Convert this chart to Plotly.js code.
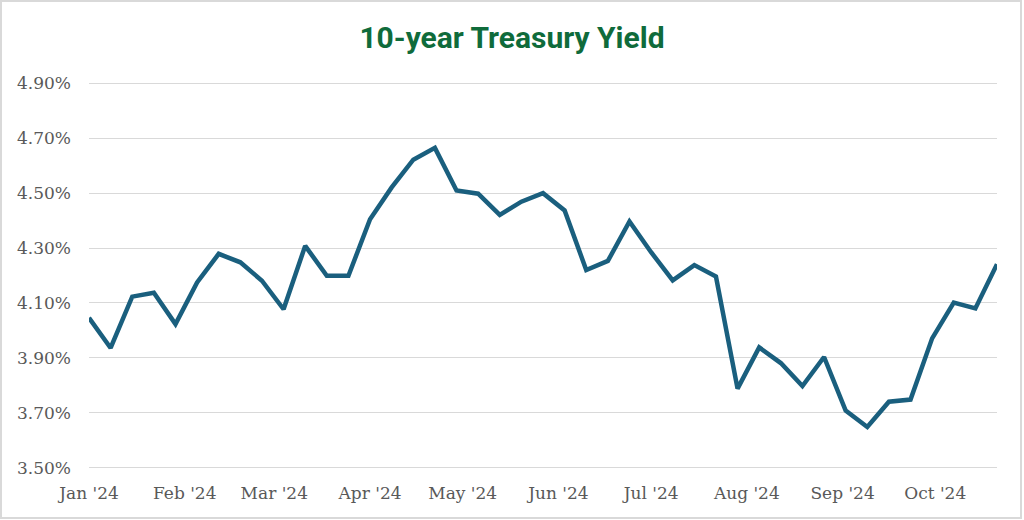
<!DOCTYPE html>
<html>
<head>
<meta charset="utf-8">
<script src="https://cdn.plot.ly/plotly-3.0.1.min.js"></script>
<style>
  html, body { margin: 0; padding: 0; background: #ffffff; }
  #chart { position: absolute; left: 0; top: 0; width: 1024px; height: 520px; }
  #frame { position: absolute; left: 0; top: 0; width: 1022px; height: 519px; box-sizing: border-box; border: 2px solid #d9d9d9; pointer-events: none; }
</style>
</head>
<body>
<div id="chart"></div>
<div id="frame"></div>
<script>
const weeks = [
  "2024-01-01","2024-01-08","2024-01-15","2024-01-22","2024-01-29",
  "2024-02-05","2024-02-12","2024-02-19","2024-02-26",
  "2024-03-04","2024-03-11","2024-03-18","2024-03-25",
  "2024-04-01","2024-04-08","2024-04-15","2024-04-22","2024-04-29",
  "2024-05-06","2024-05-13","2024-05-20","2024-05-27",
  "2024-06-03","2024-06-10","2024-06-17","2024-06-24",
  "2024-07-01","2024-07-08","2024-07-15","2024-07-22","2024-07-29",
  "2024-08-05","2024-08-12","2024-08-19","2024-08-26",
  "2024-09-02","2024-09-09","2024-09-16","2024-09-23","2024-09-30",
  "2024-10-07","2024-10-14","2024-10-21"
];
const yield10y = [
  4.046, 3.936, 4.123, 4.137, 4.023,
  4.175, 4.279, 4.248, 4.181,
  4.077, 4.308, 4.199, 4.199,
  4.405, 4.521, 4.622, 4.665, 4.510,
  4.498, 4.421, 4.469, 4.500,
  4.437, 4.220, 4.253, 4.397,
  4.285, 4.182, 4.238, 4.196, 3.788,
  3.938, 3.881, 3.797, 3.903,
  3.708, 3.648, 3.740, 3.748, 3.971,
  4.101, 4.080, 4.241
];
const titleText = "10-year Treasury Yield";
const yTickVals = [3.5, 3.7, 3.9, 4.1, 4.3, 4.5, 4.7, 4.9];

const tickFont = { family: "DejaVu Serif, Liberation Serif, serif", size: 17, color: "#595959" };

Plotly.newPlot("chart", [{
  type: "scatter",
  mode: "lines",
  x: weeks,
  y: yield10y,
  line: { color: "#1a5f7e", width: 4.5, shape: "linear" },
  hoverinfo: "x+y",
  cliponaxis: false
}], {
  width: 1024,
  height: 520,
  paper_bgcolor: "#ffffff",
  plot_bgcolor: "#ffffff",
  margin: { l: 89, r: 27, t: 82, b: 51 },
  showlegend: false,
  title: {
    text: titleText,
    x: 0.5, xref: "container", xanchor: "center",
    y: 0.927, yref: "container", yanchor: "middle",
    font: { family: "Roboto, Liberation Sans, sans-serif", size: 30, color: "#0f6b3b", weight: "bold" }
  },
  xaxis: {
    type: "date",
    range: [weeks[0], weeks[weeks.length - 1]],
    tick0: "2024-01-01",
    dtick: "M1",
    tickformat: "%b '%y",
    showgrid: false,
    zeroline: false,
    showline: false,
    ticks: "",
    ticklabelstandoff: 12,
    tickfont: tickFont
  },
  yaxis: {
    range: [3.495, 4.905],
    tickmode: "array",
    tickvals: yTickVals,
    ticktext: yTickVals.map(v => v.toFixed(2) + "%"),
    showgrid: true,
    gridcolor: "#d9d9d9",
    gridwidth: 1,
    zeroline: false,
    showline: false,
    ticks: "",
    ticklabelstandoff: 17,
    tickfont: tickFont
  }
}, { displayModeBar: false, staticPlot: true });
</script>
</body>
</html>
